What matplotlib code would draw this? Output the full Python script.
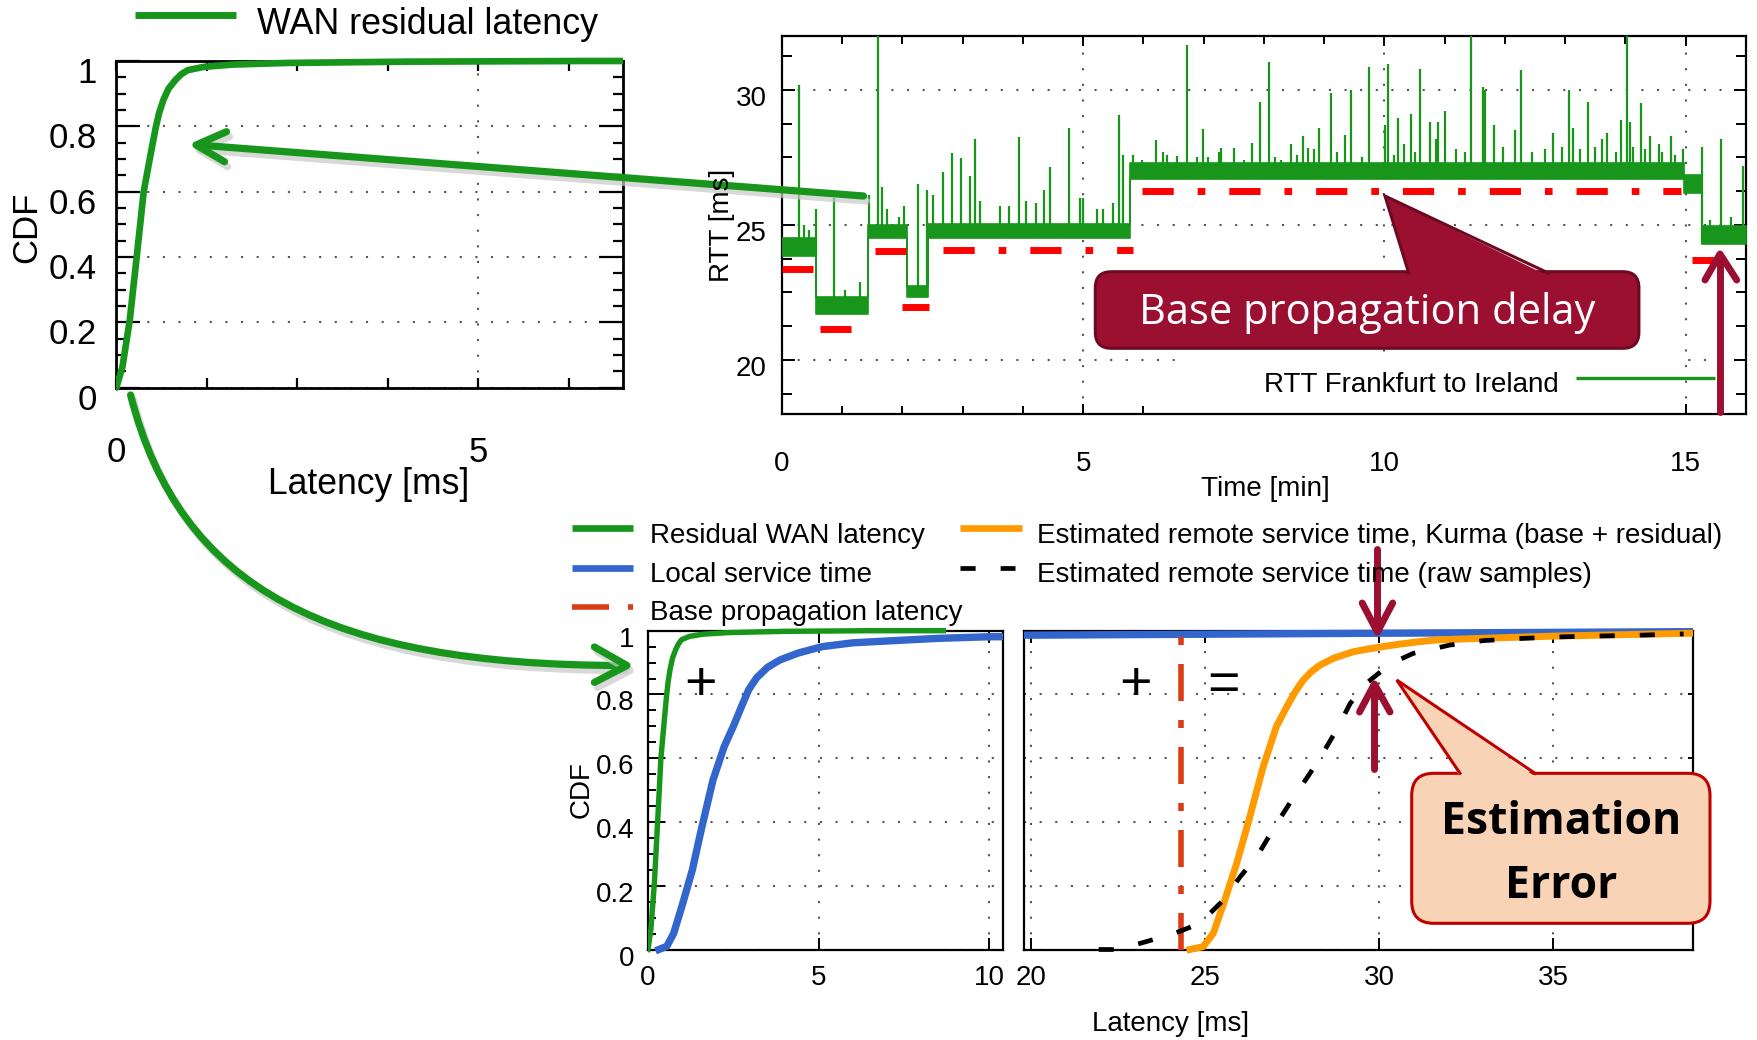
import numpy as np
import matplotlib
matplotlib.use("Agg")
import matplotlib.pyplot as plt
from matplotlib.patches import FancyBboxPatch, Polygon, Rectangle, PathPatch
from matplotlib.path import Path
from matplotlib.ticker import MultipleLocator
from matplotlib.transforms import ScaledTranslation

plt.rcParams['font.family'] = ['Liberation Sans', 'DejaVu Sans']

# ---------------- data ----------------
# WAN residual latency CDF (ms, CDF)
res_lat = [0.0, 0.085, 0.186, 0.282, 0.378, 0.47, 0.547, 0.59, 0.65, 0.72, 0.817, 0.90, 0.987, 1.21,
           1.6, 2.35, 4.0, 6.5, 8.65]
res_cdf = [0.0, 0.064, 0.207, 0.401, 0.60, 0.71, 0.799, 0.84, 0.881, 0.915, 0.942, 0.96, 0.972, 0.982,
           0.989, 0.994, 0.998, 1.0, 1.0]

# Local service time CDF
loc_lat = [0.32, 0.55, 0.75, 1.0, 1.3, 1.55, 1.9, 2.23, 2.5, 2.75, 2.95, 3.18, 3.5, 3.86, 4.4, 5.1,
           6.0, 7.58, 8.5, 10.0, 20.0, 30.0, 39.0]
loc_cdf = [0.0, 0.01, 0.05, 0.138, 0.25, 0.371, 0.53, 0.636, 0.70, 0.765, 0.815, 0.852, 0.885, 0.908,
           0.93, 0.95, 0.962, 0.971, 0.976, 0.981, 0.986, 0.992, 0.997]

# Estimated remote service time, Kurma (base + residual)
kurma_lat = [24.57, 24.95, 25.24, 25.57, 25.91, 26.29, 26.67, 27.05, 27.35, 27.6, 27.82, 28.05, 28.3,
             28.7, 29.26, 29.7, 30.1, 30.6, 31.1, 31.65, 32.9, 35.0, 38.94]
kurma_cdf = [0.0, 0.009, 0.051, 0.155, 0.27, 0.417, 0.573, 0.699, 0.762, 0.81, 0.845, 0.871, 0.892,
             0.914, 0.934, 0.943, 0.95, 0.958, 0.965, 0.971, 0.976, 0.983, 0.992]

# Estimated remote service time (raw samples)
raw_lat = [21.95, 22.4, 23.13, 24.09, 24.86, 25.14, 25.53, 26.01, 26.49, 27.0, 27.5, 28.0, 28.38, 28.78,
           29.17, 29.69, 30.22, 30.6, 30.98, 32.03, 33.0, 34.14, 35.3, 37.5, 38.74]
raw_cdf = [0.0, 0.0, 0.019, 0.049, 0.082, 0.113, 0.155, 0.228, 0.291, 0.385, 0.47, 0.55, 0.615, 0.689,
           0.772, 0.84, 0.887, 0.91, 0.929, 0.955, 0.969, 0.976, 0.981, 0.986, 0.99]

base_latency = 24.31

# RTT Frankfurt -> Ireland: level segments (min, ms)
rtt_seg_start = [0.0, 0.57, 1.42, 2.07, 2.42, 5.77, 14.97, 15.27]
rtt_seg_end = [0.57, 1.42, 2.07, 2.42, 5.77, 14.97, 15.27, 16.0]
rtt_seg_low = [23.85, 21.7, 24.5, 22.35, 24.5, 26.7, 26.2, 24.3]
rtt_seg_high = [24.5, 22.35, 25.0, 22.75, 25.05, 27.3, 26.85, 24.95]

# RTT spikes (min, ms)
spike_t = [0.29, 0.37, 0.45, 0.56,
           0.87, 1.05, 1.3,
           1.45, 1.6, 1.66, 1.75, 1.95, 2.02,
           2.25, 2.41,
           2.50, 2.67, 2.82, 2.97, 3.12, 3.21, 3.28, 3.61, 3.76, 3.93, 4.05, 4.22, 4.35, 4.45,
           4.76, 4.94, 5.0, 5.22, 5.32, 5.49, 5.59, 5.66,
           5.83, 5.97, 6.2, 6.32, 6.39, 6.55, 6.72, 6.89, 6.98, 7.07, 7.26, 7.29, 7.5, 7.67, 7.8,
           7.94, 8.09, 8.18, 8.28, 8.44, 8.55, 8.65, 8.73, 8.83, 8.92, 9.12, 9.21, 9.35, 9.45,
           9.63, 9.75, 10.01, 10.05, 10.15, 10.23, 10.32, 10.44, 10.5, 10.59, 10.76, 10.85, 10.88,
           11.0, 11.19, 11.33, 11.44, 11.63, 11.67, 11.82, 11.96, 12.17, 12.26, 12.45, 12.66, 12.8,
           12.94, 13.06, 13.13, 13.25, 13.37, 13.49, 13.61, 13.70, 13.84, 13.93, 14.03, 14.07,
           14.12, 14.25, 14.33, 14.4, 14.55, 14.61, 14.75, 14.82, 14.96,
           15.27, 15.4, 15.58, 15.75, 15.95]
spike_v = [30.2, 25.0, 24.8, 25.6,
           26.0, 22.6, 22.9,
           26.1, 32.5, 26.4, 25.6, 25.3, 25.7,
           26.5, 26.3,
           26.1, 26.96, 27.68, 27.49, 26.81, 28.17, 25.9, 25.7, 25.7, 28.26, 25.9, 25.8, 26.31, 27.14,
           28.6, 26.0, 26.0, 25.6, 25.6, 25.8, 29.06, 27.6,
           27.6, 27.4, 28.15, 27.7, 27.6, 27.55, 31.67, 27.5, 28.54, 27.5, 27.7, 27.86, 27.86, 27.4, 28.05,
           29.54, 31.05, 27.5, 27.4, 28.0, 27.6, 28.29, 27.86, 27.8, 28.6, 29.9, 27.7, 28.35, 30.0,
           27.5, 30.84, 28.69, 30.96, 27.6, 28.98, 28.0, 29.1, 27.7, 30.77, 28.8, 28.2, 28.8,
           29.22, 27.8, 27.7, 32.5, 30.1, 30.0, 28.7, 27.9, 28.5, 30.73, 27.7, 27.8, 28.4,
           27.9, 29.99, 28.6, 27.8, 29.57, 27.9, 28.2, 28.4, 27.7, 28.9, 32.5, 28.8,
           27.9, 29.5, 27.8, 28.3, 28.0, 27.7, 28.3, 27.6, 27.8,
           27.9, 25.2, 28.2, 25.3, 27.2]

# Base propagation delay segments (min, ms)
prop_start = [0.0, 0.63, 1.55, 2.0, 2.68, 5.97, 15.11]
prop_end = [0.52, 1.15, 2.06, 2.44, 5.82, 14.92, 15.54]
prop_level = [23.37, 21.15, 24.04, 21.95, 24.06, 26.26, 23.69]

cdf_ticks = [0, 0.2, 0.4, 0.6, 0.8, 1]
cdf_labels = ['0', '0.2', '0.4', '0.6', '0.8', '1']

# ---------------- figure ----------------
W, H = 1758, 1040
fig = plt.figure(figsize=(W / 100, H / 100), dpi=100)
fig.patch.set_facecolor('white')

GREEN = '#17961b'
BLUE = '#3366cc'
ORANGE = '#ff9a00'
BASERED = '#dc3c14'
DARKRED = '#9b1030'
GRIDC = '#555555'
grid_kw = dict(color=GRIDC, lw=1.5, ls=(0, (1, 6.5)))


def rect(l, t, r, b):
    return [l / W, 1 - b / H, (r - l) / W, (b - t) / H]


def shift_ylabels(ax, dy_px):
    off = ScaledTranslation(0, -dy_px / 100, fig.dpi_scale_trans)
    for lab in ax.get_yticklabels():
        lab.set_transform(lab.get_transform() + off)


def clip_box(ax, line):
    line.set_clip_path(Rectangle((0, -0.05), 1, 1.1, transform=ax.transAxes))


# ---- top-left: WAN residual latency CDF ----
ax1 = fig.add_axes(rect(116.3, 61, 623.3, 387.7))
ax1.set_xlim(0, 7)
ax1.set_ylim(0, 1)
ax1.set_xticks([0, 5])
ax1.set_xticklabels(['0', '5'])
ax1.xaxis.set_minor_locator(MultipleLocator(1.25))
ax1.set_yticks(cdf_ticks)
ax1.set_yticklabels(cdf_labels)
ax1.yaxis.set_minor_locator(MultipleLocator(0.05))
ax1.tick_params(axis='both', which='both', direction='in', top=True, right=True, width=1.6)
ax1.tick_params(axis='y', which='major', length=17, pad=14, labelsize=25)
ax1.tick_params(axis='y', which='minor', length=7)
ax1.tick_params(axis='x', which='major', length=7, pad=35, labelsize=25)
ax1.tick_params(axis='x', which='minor', length=7)
for s in ax1.spines.values():
    s.set_linewidth(2.0)
ax1.grid(True, which='major', **grid_kw)
l, = ax1.plot(res_lat, res_cdf, color=GREEN, lw=4.8, solid_capstyle='round',
              solid_joinstyle='round', zorder=3)
clip_box(ax1, l)
shift_ylabels(ax1, 9)

# ---- top-right: RTT time series ----
ax2 = fig.add_axes(rect(782, 36, 1746, 414))
ax2.set_xlim(0, 16)
ax2.set_ylim(18, 32)
ax2.set_xticks([0, 5, 10, 15])
ax2.xaxis.set_minor_locator(MultipleLocator(1))
ax2.set_yticks([20, 25, 30])
ax2.yaxis.set_minor_locator(MultipleLocator(1.25))
ax2.tick_params(axis='both', which='both', direction='in', top=True, right=True, width=1.4)
ax2.tick_params(axis='x', which='major', length=7, pad=27, labelsize=20)
ax2.tick_params(axis='x', which='minor', length=6)
ax2.tick_params(axis='y', which='major', length=9, pad=11, labelsize=20)
ax2.tick_params(axis='y', which='minor', length=7)
for s in ax2.spines.values():
    s.set_linewidth(1.6)
ax2.grid(True, which='major', **grid_kw)
# opaque key box of the legend
ax2.add_patch(Rectangle((6.6, 18.0), 8.35, 2.15, facecolor='white', edgecolor='none', zorder=1.7))

band_t, band_lo, band_hi = [], [], []
for s0, s1, lo, hi in zip(rtt_seg_start, rtt_seg_end, rtt_seg_low, rtt_seg_high):
    band_t += [s0, s1]
    band_lo += [lo, lo]
    band_hi += [hi, hi]
ax2.fill_between(band_t, band_lo, band_hi, color=GREEN, lw=1.2, edgecolor=GREEN, zorder=3)
spike_base = []
for t in spike_t:
    for s0, s1, lo in zip(rtt_seg_start, rtt_seg_end, rtt_seg_low):
        if s0 <= t < s1:
            spike_base.append(lo)
            break
ax2.vlines(spike_t, spike_base, spike_v, color=GREEN, lw=1.6, zorder=3)
for s0, s1, v in zip(prop_start, prop_end, prop_level):
    ax2.plot([s0, s1], [v, v], color='#ff0000', lw=5, dashes=(4.5, 3.45, 1.1, 3.45),
             dash_capstyle='butt', zorder=4)
shift_ylabels(ax2, 6)

# ---- bottom-left: CDFs 0..10 ms ----
ax3 = fig.add_axes(rect(648, 630.7, 1003, 949.5))
ax3.set_xlim(0, 10.4)
ax3.set_ylim(0, 1)
ax3.set_xticks([0, 5, 10])
ax3.set_yticks(cdf_ticks)
ax3.set_yticklabels(cdf_labels)
ax3.yaxis.set_minor_locator(MultipleLocator(0.05))
ax3.tick_params(axis='both', which='both', direction='in', top=True, right=False, width=1.4)
ax3.tick_params(axis='y', which='major', length=12, pad=10, labelsize=20)
ax3.tick_params(axis='y', which='minor', length=6)
ax3.tick_params(axis='x', which='major', length=8.4, pad=11, labelsize=20)
for s in ax3.spines.values():
    s.set_linewidth(1.6)
ax3.grid(True, which='major', **grid_kw)
l, = ax3.plot(res_lat, res_cdf, color=GREEN, lw=3.9, solid_joinstyle='round', zorder=3)
clip_box(ax3, l)
l, = ax3.plot(loc_lat, loc_cdf, color=BLUE, lw=5.3, solid_joinstyle='round', zorder=3)
clip_box(ax3, l)
shift_ylabels(ax3, 6)

# ---- bottom-right: CDFs 20..39 ms ----
ax4 = fig.add_axes(rect(1024.5, 630.7, 1693, 949.5))
ax4.set_xlim(19.82, 39.01)
ax4.set_ylim(0, 1)
ax4.set_xticks([20, 25, 30, 35])
ax4.set_yticks(cdf_ticks)
ax4.tick_params(axis='both', which='both', direction='in', top=True, width=1.4)
ax4.tick_params(axis='x', which='major', length=8.4, pad=11, labelsize=20)
ax4.tick_params(axis='y', which='major', left=False, right=True, labelleft=False, length=3.6)
for s in ax4.spines.values():
    s.set_linewidth(1.6)
ax4.grid(True, which='major', **grid_kw)
l, = ax4.plot(loc_lat, loc_cdf, color=BLUE, lw=5.3, zorder=3)
clip_box(ax4, l)
ax4.plot([base_latency, base_latency], [0, 1], color=BASERED, lw=4,
         dashes=(6.66, 3.42, 1.44, 3.42), dash_capstyle='butt', zorder=3)
l, = ax4.plot(kurma_lat, kurma_cdf, color=ORANGE, lw=5, solid_joinstyle='round', zorder=4)
clip_box(ax4, l)
l, = ax4.plot(raw_lat, raw_cdf, color='black', lw=3.4, dashes=(3.2, 5.3), zorder=5)
clip_box(ax4, l)

# ---------------- overlay (pixel coordinates) ----------------
ov = fig.add_axes([0, 0, 1, 1], zorder=10)
ov.set_xlim(0, W)
ov.set_ylim(H, 0)
ov.axis('off')
ov.patch.set_alpha(0)

TXT = dict(color='black', family=['Liberation Sans', 'DejaVu Sans'])

# top-left texts
ov.plot([135, 236], [15, 15], color=GREEN, lw=5, solid_capstyle='butt')
ov.text(257, 34, 'WAN residual latency', fontsize=25.8, ha='left', va='baseline', **TXT)
ov.text(369, 494, 'Latency [ms]', fontsize=25.6, ha='center', va='baseline', **TXT)
ov.text(26.5, 227, 'CDF', fontsize=25, ha='center', va='center', rotation=90, **TXT)

# top-right texts
ov.text(1265.6, 496, 'Time [min]', fontsize=20, ha='center', va='baseline', **TXT)
ov.text(722, 225, 'RTT [ms]', fontsize=20, ha='center', va='center', rotation=90, **TXT)
ov.text(1558.5, 391.7, 'RTT Frankfurt to Ireland', fontsize=20, ha='right', va='baseline', **TXT)
ov.plot([1575.6, 1715], [378.3, 378.3], color=GREEN, lw=2.4, solid_capstyle='butt')

# bottom texts
ov.text(1171, 1031, 'Latency [ms]', fontsize=20, ha='center', va='baseline', **TXT)
ov.text(581.5, 790, 'CDF', fontsize=20, ha='center', va='center', rotation=90, **TXT)

# bottom legend
ov.plot([571.7, 633.3], [528.3, 528.3], color=GREEN, lw=4.8, solid_capstyle='butt')
ov.text(650, 543, 'Residual WAN latency', fontsize=20, ha='left', va='baseline', **TXT)
ov.plot([571.7, 633.3], [567.7, 567.7], color=BLUE, lw=4.8, solid_capstyle='butt')
ov.text(650, 581.7, 'Local service time', fontsize=20, ha='left', va='baseline', **TXT)
ov.plot([571.7, 633.3], [606.7, 606.7], color=BASERED, lw=4, dashes=(6.66, 3.42, 1.44, 3.42),
        dash_capstyle='butt')
ov.text(650, 620, 'Base propagation latency', fontsize=20, ha='left', va='baseline', **TXT)
ov.plot([960, 1021.7], [528.3, 528.3], color=ORANGE, lw=4.8, solid_capstyle='butt')
ov.text(1037.5, 543, 'Estimated remote service time, Kurma (base + residual)', fontsize=20,
        ha='left', va='baseline', **TXT)
ov.plot([960, 1015], [567.7, 567.7], color='black', lw=3.4, dashes=(3.2, 5.3), dash_capstyle='butt')
ov.text(1037.5, 581.7, 'Estimated remote service time (raw samples)', fontsize=20,
        ha='left', va='baseline', **TXT)

# plus / equals signs
ov.text(700.8, 700, '+', fontsize=40, ha='center', va='baseline', **TXT)
ov.text(1135.8, 700, '+', fontsize=40, ha='center', va='baseline', **TXT)
ov.text(1224, 700, '=', fontsize=40, ha='center', va='baseline', **TXT)

# green arrows (with soft shadow)
SH = '#c8c8c8'
for dx, dy, col, a in [(3, 5, SH, 0.7), (0, 0, GREEN, 1.0)]:
    ov.plot([863.5 + dx, 198 + dx], [196 + dy, 145 + dy], color=col, alpha=a, lw=5.2,
            solid_capstyle='round')
    ov.plot([226.5 + dx, 196 + dx, 224.5 + dx], [131.7 + dy, 145 + dy, 161.7 + dy], color=col,
            alpha=a, lw=5.2, solid_capstyle='round', solid_joinstyle='round')
    verts = [(130.6 + dx, 395 + dy), (180 + dx, 590 + dy), (330 + dx, 665 + dy), (622 + dx, 665.5 + dy)]
    codes = [Path.MOVETO, Path.CURVE4, Path.CURVE4, Path.CURVE4]
    ov.add_patch(PathPatch(Path(verts, codes), facecolor='none', edgecolor=col, alpha=a, lw=5.2,
                           capstyle='round'))
    ov.plot([594.4 + dx, 627 + dx, 594.4 + dx], [647 + dy, 665.5 + dy, 682.4 + dy], color=col, alpha=a,
            lw=5.2, solid_capstyle='round', solid_joinstyle='round')

# dark red arrows
ak = dict(color=DARKRED, lw=5, solid_capstyle='round', solid_joinstyle='round')
ov.plot([1720, 1720], [411.7, 256], **ak)
ov.plot([1705, 1720, 1736.7], [280, 254, 280], **ak)
ov.plot([1377.4, 1377.4], [548.9, 630], **ak)
ov.plot([1362.2, 1377.4, 1392.7], [603, 632, 603], **ak)
ov.plot([1374.4, 1374.4], [768.6, 686], **ak)
ov.plot([1359.5, 1374.4, 1390], [712, 684, 712], **ak)

# callout: Base propagation delay
ov.add_patch(FancyBboxPatch((1095.3, 271.7), 1638.9 - 1095.3, 348.3 - 271.7,
                            boxstyle='round,pad=0,rounding_size=16', facecolor=DARKRED,
                            edgecolor='#6d0a22', lw=2.2))
ov.add_patch(Polygon([(1408.7, 276), (1385, 196), (1548.3, 276)], closed=True, facecolor=DARKRED,
                     edgecolor='none'))
ov.plot([1408.7, 1385, 1548.3], [273, 196, 273], color='#6d0a22', lw=2.2, solid_joinstyle='miter')
ov.text(1367, 313, 'Base propagation delay', fontsize=30, color='white', ha='center', va='center',
        family=['Open Sans', 'DejaVu Sans'])

# callout: Estimation Error
PEACH = '#f9d3b5'
EDGE = '#c00000'
ov.add_patch(FancyBboxPatch((1411.7, 773.3), 1710 - 1411.7, 923.3 - 773.3,
                            boxstyle='round,pad=0,rounding_size=22', facecolor=PEACH,
                            edgecolor=EDGE, lw=2.2))
ov.add_patch(Polygon([(1460, 776.5), (1396.7, 680), (1535, 776.5)], closed=True, facecolor=PEACH,
                     edgecolor='none'))
ov.plot([1460, 1396.7, 1535], [773.3, 680, 773.3], color=EDGE, lw=2.2, solid_joinstyle='miter')
ov.text(1561, 823, 'Estimation', fontsize=32, fontweight='bold', color='black', ha='center',
        va='center', family=['Open Sans', 'DejaVu Sans'])
ov.text(1561, 886, 'Error', fontsize=32, fontweight='bold', color='black', ha='center',
        va='center', family=['Open Sans', 'DejaVu Sans'])

fig.savefig('out.png', dpi=100)
